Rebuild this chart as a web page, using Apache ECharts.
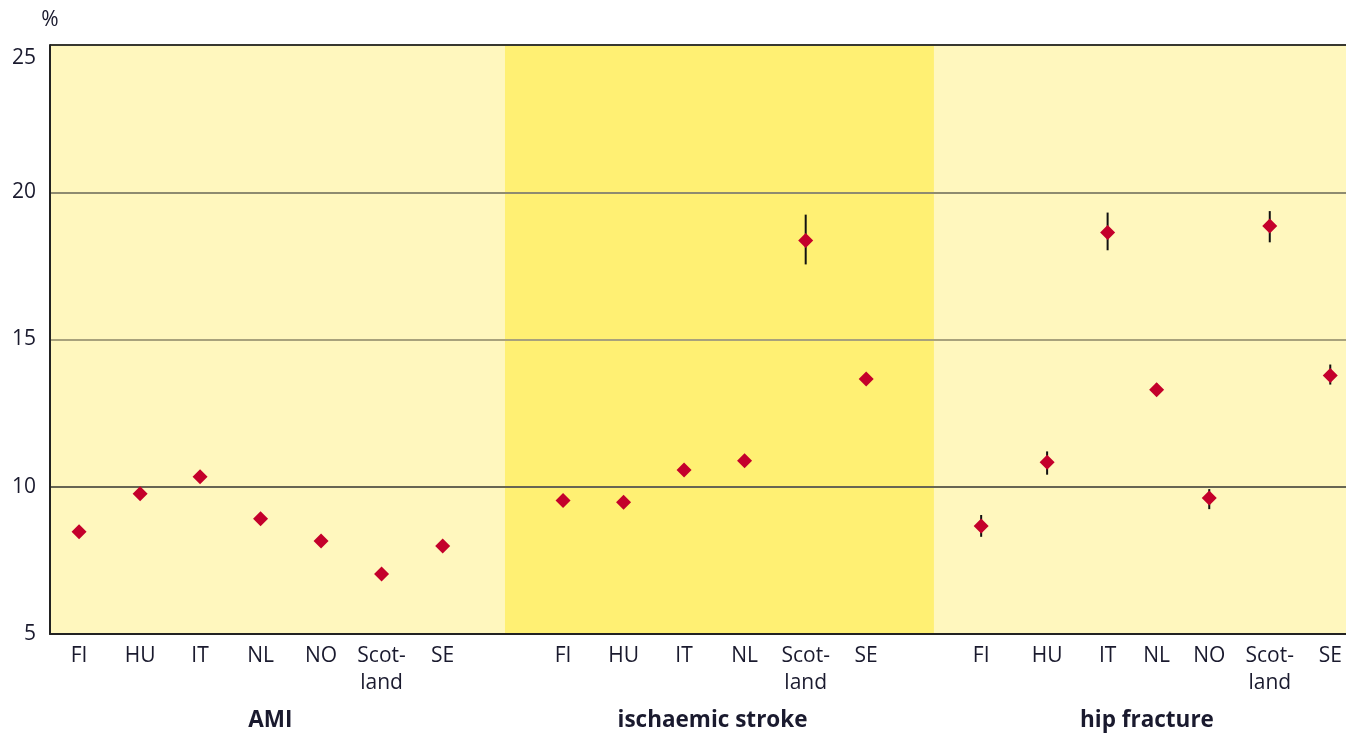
<!DOCTYPE html>
<html>
<head>
<meta charset="utf-8">
<script src="https://cdn.jsdelivr.net/npm/echarts@6/dist/echarts.min.js"></script>
<style>html,body{margin:0;padding:0;background:#fff}#c{width:1346px;height:733px}</style>
</head>
<body>
<div id="c"></div>
<script>
// ---- data ----
const amiCats = ['FI','HU','IT','NL','NO','Scot-\nland','SE'];
const amiPos  = [0.48, 1.49, 2.48, 3.48, 4.48, 5.48, 6.49];
const amiVal  = [8.47, 9.76, 10.34, 8.91, 8.16, 7.04, 7.99];
const amiLow  = [8.30, 9.60, 10.18, 8.75, 8.00, 6.88, 7.83];
const amiHigh = [8.64, 9.92, 10.50, 9.07, 8.32, 7.20, 8.15];

const strokeCats = ['FI','HU','IT','NL','Scot-\nland','SE'];
const strokePos  = [8.48, 9.48, 10.48, 11.48, 12.49, 13.49];
const strokeVal  = [9.53, 9.47, 10.57, 10.88, 18.36, 13.66];
const strokeLow  = [9.35, 9.30, 10.40, 10.70, 17.55, 13.50];
const strokeHigh = [9.70, 9.65, 10.75, 11.05, 19.24, 13.85];

const hipCats = ['FI','HU','IT','NL','NO','Scot-\nland','SE'];
const hipPos  = [15.39, 16.48, 17.48, 18.29, 19.16, 20.16, 21.16];
const hipVal  = [8.67, 10.83, 18.63, 13.29, 9.62, 18.85, 13.78];
const hipLow  = [8.30, 10.41, 18.03, 13.10, 9.24, 18.30, 13.47];
const hipHigh = [9.04, 11.20, 19.31, 13.50, 9.92, 19.36, 14.15];

const groupNames = ['AMI', 'ischaemic stroke', 'hip fracture'];
const groupPos   = [3.64, 10.95, 18.13];
const bandBounds = [0, 7.52, 14.61, 21.42];
const bandColors = ['#fff7be', '#fff073', '#fff7be'];

const yTicks = [5, 10, 15, 20, 25];

// ---- build ----
const allCats = amiCats.concat(strokeCats, hipCats);
const allPos = amiPos.concat(strokePos, hipPos);
const allVal = amiVal.concat(strokeVal, hipVal);
const allLow = amiLow.concat(strokeLow, hipLow);
const allHigh = amiHigh.concat(strokeHigh, hipHigh);

const points = allPos.map((p, i) => [p, allVal[i]]);
const bars = allPos.map((p, i) => [p, allLow[i], allHigh[i]]);
const bands = bandColors.map((c, i) => [bandBounds[i], bandBounds[i + 1], i]);

function nearestIndex(arr, v) {
  let best = 0, d = Infinity;
  arr.forEach((p, i) => { const dd = Math.abs(p - v); if (dd < d) { d = dd; best = i; } });
  return best;
}

const textColor = '#1a1a2e';
const font = 'Open Sans';

const chart = echarts.init(document.getElementById('c'), null, {renderer: 'canvas'});
chart.setOption({
  animation: false,
  grid: {left: 50, right: 0, top: 45, bottom: 99, containLabel: false},
  xAxis: [{
    type: 'value', min: bandBounds[0], max: bandBounds[bandBounds.length - 1],
    position: 'bottom', z: 1,
    axisLine: {show: true, lineStyle: {color: '#222', width: 2}},
    axisTick: {show: false},
    splitLine: {show: false},
    axisLabel: {
      customValues: allPos,
      formatter: v => allCats[nearestIndex(allPos, v)],
      color: textColor, fontFamily: font, fontSize: 21, lineHeight: 27,
      margin: 9, verticalAlign: 'top'
    }
  }, {
    type: 'value', min: bandBounds[0], max: bandBounds[bandBounds.length - 1],
    position: 'bottom', offset: 0, z: 1,
    axisLine: {show: false}, axisTick: {show: false}, splitLine: {show: false},
    axisLabel: {
      customValues: groupPos,
      formatter: v => groupNames[nearestIndex(groupPos, v)],
      color: textColor, fontFamily: font, fontSize: 22.5, fontWeight: 'bold',
      margin: 75, verticalAlign: 'top'
    }
  }],
  yAxis: {
    type: 'value', min: 5, max: 25, interval: 5, z: 1,
    name: '%', nameLocation: 'end', nameGap: 14,
    nameTextStyle: {color: textColor, fontFamily: font, fontSize: 21, align: 'center'},
    axisLine: {show: true, lineStyle: {color: '#222', width: 2}},
    axisTick: {show: false},
    axisLabel: {
      color: textColor, fontFamily: font, fontSize: 21, margin: 14,
      formatter: v => v === yTicks[yTicks.length - 1] ? '{top|' + v + '}' : String(v),
      rich: {top: {fontFamily: font, fontSize: 21, color: textColor, padding: [26, 0, 0, 0]}}
    },
    splitLine: {show: true, lineStyle: {width: 2, color: ['rgba(0,0,0,0)', '#676553', '#a8a27c', '#8e8b70', '#383830']}}
  },
  series: [{
    type: 'custom', z: 0, silent: true,
    data: bands,
    renderItem: (params, api) => {
      const a = api.coord([api.value(0), 25]);
      const b = api.coord([api.value(1), 5]);
      return {type: 'rect', shape: {x: a[0], y: a[1], width: b[0] - a[0], height: b[1] - a[1]},
              style: {fill: bandColors[api.value(2)]}};
    },
    encode: {x: [0, 1]}
  }, {
    type: 'custom', z: 3, silent: true,
    data: bars,
    renderItem: (params, api) => {
      const lo = api.coord([api.value(0), api.value(1)]);
      const hi = api.coord([api.value(0), api.value(2)]);
      return {type: 'line', shape: {x1: lo[0], y1: lo[1], x2: hi[0], y2: hi[1]},
              style: {stroke: '#111', lineWidth: 2}};
    },
    encode: {x: 0, y: [1, 2]}
  }, {
    type: 'scatter', z: 4,
    data: points,
    symbol: 'diamond', symbolSize: 15,
    itemStyle: {color: '#c4002b', opacity: 1}
  }]
});
</script>
</body>
</html>
